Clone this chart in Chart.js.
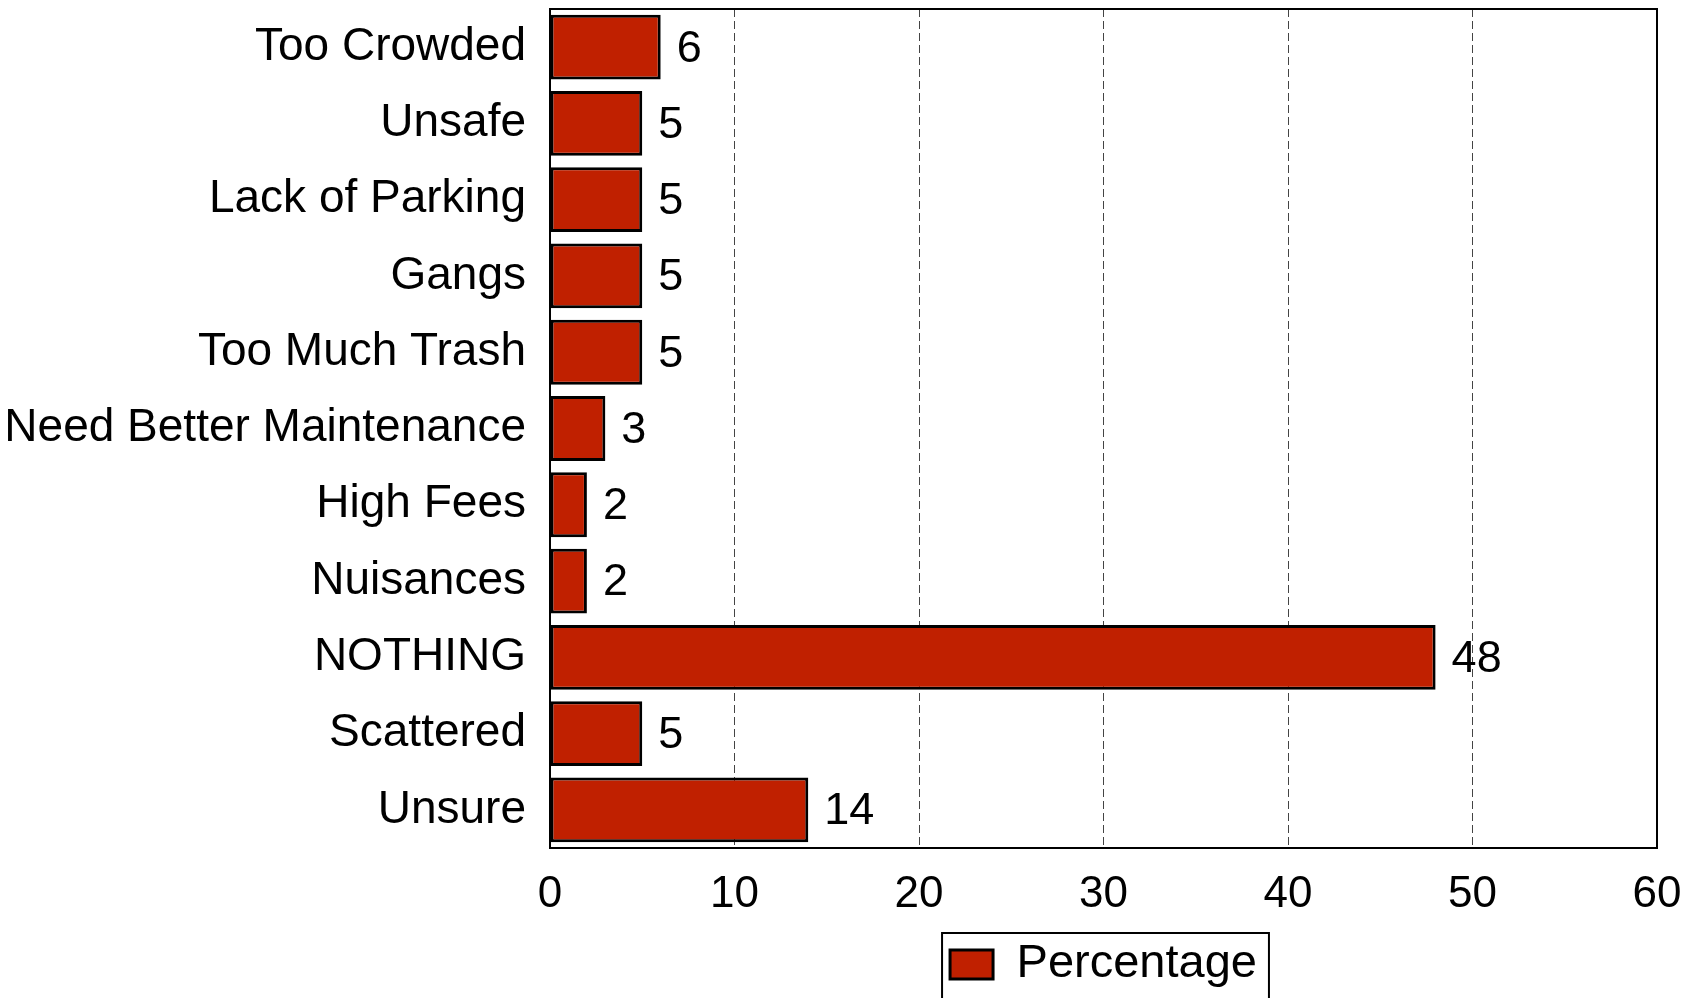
<!DOCTYPE html>
<html>
<head>
<meta charset="utf-8">
<script src="https://cdn.jsdelivr.net/npm/chart.js@4.4.1/dist/chart.umd.min.js"></script>
<style>
  html, body { margin: 0; padding: 0; background: #fff; }
  #wrap { width: 1694px; height: 998px; }
</style>
</head>
<body>
<div id="wrap"><canvas id="reasonsChart" width="1694" height="998"></canvas></div>
<script>
// Data
const categories = [
  "Too Crowded", "Unsafe", "Lack of Parking", "Gangs", "Too Much Trash",
  "Need Better Maintenance", "High Fees", "Nuisances", "NOTHING", "Scattered", "Unsure"
];
const percentages = [6, 5, 5, 5, 5, 3, 2, 2, 48, 5, 14];
const xTicks = [0, 10, 20, 30, 40, 50, 60];
const seriesName = "Percentage";

const FONT = "'Liberation Sans', Arial, sans-serif";
const barColor = "#C02000";

// Draws the value next to each bar
const valueLabels = {
  id: "valueLabels",
  afterDatasetsDraw(chart) {
    const ctx = chart.ctx;
    const meta = chart.getDatasetMeta(0);
    ctx.save();
    ctx.font = "45px " + FONT;
    ctx.fillStyle = "#000";
    ctx.textAlign = "left";
    ctx.textBaseline = "middle";
    meta.data.forEach((bar, i) => {
      ctx.fillText(String(percentages[i]), bar.x + 16, bar.y + 2);
    });
    ctx.restore();
  }
};

// Frame around the plot area and the legend
const frames = {
  id: "frames",
  afterDraw(chart) {
    const ctx = chart.ctx;
    const a = chart.chartArea;
    ctx.save();
    ctx.strokeStyle = "#000";
    ctx.lineWidth = 2;
    ctx.strokeRect(a.left, a.top, a.right - a.left, a.bottom - a.top);

    const lg = chart.legend;
    if (lg && lg.legendHitBoxes && lg.legendHitBoxes.length) {
      const hb = lg.legendHitBoxes[0];
      ctx.strokeRect(hb.left - 8, hb.top - 8, hb.width + 20, 100);
    }
    ctx.restore();
  }
};

const ctx = document.getElementById("reasonsChart").getContext("2d");
new Chart(ctx, {
  type: "bar",
  data: {
    labels: categories,
    datasets: [{
      label: seriesName,
      data: percentages,
      backgroundColor: barColor,
      borderColor: "#000",
      borderWidth: 3,
      borderSkipped: false,
      barPercentage: 0.85,
      categoryPercentage: 1.0
    }]
  },
  options: {
    indexAxis: "y",
    responsive: false,
    animation: false,
    layout: { padding: { top: 9, right: 37, left: 0, bottom: 0 } },
    plugins: {
      title: { display: false },
      tooltip: { enabled: false },
      legend: {
        display: true,
        position: "bottom",
        fullSize: false,
        labels: {
          color: "#000",
          font: { family: FONT, size: 47 },
          boxWidth: 43,
          boxHeight: 29,
          padding: 8
        }
      }
    },
    scales: {
      x: {
        min: 0,
        max: 60,
        afterBuildTicks(axis) {
          axis.ticks = xTicks.map(v => ({ value: v }));
        },
        afterFit(axis) {
          axis.height = 85;
          axis.paddingLeft = 0;
          axis.paddingRight = 0;
        },
        grid: {
          display: true,
          color: "#444",
          lineWidth: 1,
          drawTicks: false
        },
        border: { display: true, color: "#000", width: 2, dash: [8, 4] },
        ticks: {
          color: "#000",
          font: { family: FONT, size: 44 },
          padding: 20,
          maxRotation: 0
        }
      },
      y: {
        afterFit(axis) {
          axis.width = 550;
          axis.paddingTop = 0;
          axis.paddingBottom = 0;
        },
        grid: { display: false, drawTicks: false },
        border: { display: true, color: "#000", width: 2 },
        ticks: {
          color: "#000",
          font: { family: FONT, size: 46 },
          padding: 24,
          autoSkip: false
        }
      }
    }
  },
  plugins: [valueLabels, frames]
});
</script>
</body>
</html>
